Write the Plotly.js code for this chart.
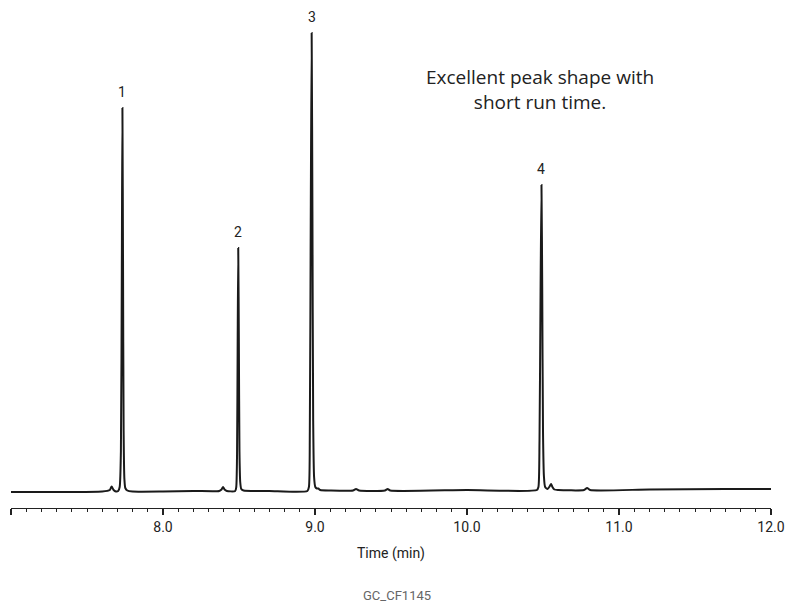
<!DOCTYPE html>
<html>
<head>
<meta charset="utf-8">
<script src="https://cdn.plot.ly/plotly-3.0.1.min.js"></script>
<style>html,body{margin:0;padding:0;background:#fff;}#chart{width:788px;height:604px;}</style>
</head>
<body>
<div id="chart"></div>
<script>
// Chromatogram trace (time in min, detector response in arbitrary units)
const timeMin = [
  7.000, 7.300, 7.600, 7.650, 7.662, 7.675, 7.690, 7.705, 7.715, 7.723, 7.729, 7.733, 7.737, 7.741, 7.746, 7.752, 7.765, 7.800,
  8.000, 8.200, 8.370, 8.385, 8.395, 8.405, 8.420, 8.475, 8.482, 8.487, 8.491, 8.495, 8.499, 8.503, 8.508, 8.515, 8.530,
  8.700, 8.950, 8.960, 8.966, 8.972, 8.978, 8.983, 8.988, 8.994, 9.002, 9.012, 9.022, 9.035, 9.100, 9.250, 9.270, 9.290,
  9.460, 9.478, 9.495, 10.000, 10.460, 10.470, 10.477, 10.484, 10.490, 10.495, 10.500, 10.506, 10.514, 10.530, 10.545,
  10.553, 10.562, 10.575, 10.600, 10.770, 10.790, 10.810, 11.200, 11.700, 12.000
];
const response = [
  -1, -1, -0.5, 1, 4.5, 1, -0.5, 0, 4, 40, 220, 383, 230, 60, 12, 3, 0.5, -0.5,
  -0.5, 0, 0, 1.5, 4, 1.5, 0, 0, 4, 35, 140, 243, 150, 40, 9, 2, 0.5,
  0, 0, 4, 60, 270, 458, 280, 70, 14, 4, 2.5, 2.5, 1, 0.5, 0.5, 2, 0.5,
  0.5, 2, 0.5, 1, 1, 4, 50, 200, 306, 200, 60, 15, 4, 2, 5,
  7, 4, 1.5, 1, 1, 3, 1, 1.5, 2, 2
];

// Peak labels
const peakLabels = ["1", "2", "3", "4"];
const peakTimes = [7.733, 8.495, 8.978, 10.490];
const peakHeights = [383, 243, 458, 306];

// Axis tick labels
const tickValues = [7, 8, 9, 10, 11, 12];
const tickLabels = ["", "8.0", "9.0", "10.0", "11.0", "12.0"];

const axisFont = "Roboto, 'DejaVu Sans', sans-serif";

const trace = {
  x: timeMin,
  y: response,
  type: "scatter",
  mode: "lines",
  line: {color: "#1a1a1a", width: 2, shape: "spline", smoothing: 0.6},
  hoverinfo: "x+y",
  showlegend: false
};

const annotations = peakLabels.map((lab, i) => ({
  x: peakTimes[i], y: peakHeights[i], xref: "x", yref: "y",
  text: lab, showarrow: false, yanchor: "bottom", yshift: 6,
  font: {family: axisFont, size: 14, color: "#222"}
}));

annotations.push({
  xref: "paper", yref: "paper", x: 0.696, y: 0.824, xanchor: "center", yanchor: "middle",
  text: "Excellent peak shape with<br>short run time.", showarrow: false, align: "center",
  font: {family: "'Open Sans', 'Noto Sans', sans-serif", size: 19, color: "#222"}
});

annotations.push({
  xref: "paper", yref: "paper", x: 0.508, y: -0.172, xanchor: "center", yanchor: "middle",
  text: "GC_CF1145", showarrow: false,
  font: {family: axisFont, size: 13, color: "#666"}
});

const layout = {
  width: 788, height: 604,
  margin: {l: 11, r: 17, t: 0, b: 96},
  paper_bgcolor: "#fff", plot_bgcolor: "#fff",
  xaxis: {
    range: [7, 12],
    showline: true, linecolor: "#222", linewidth: 1.3,
    showgrid: false, zeroline: false,
    ticks: "outside", ticklen: 6, tickwidth: 1.2, tickcolor: "#222",
    tickvals: tickValues, ticktext: tickLabels,
    tickfont: {family: axisFont, size: 14, color: "#222"},
    minor: {dtick: 0.1, ticks: "outside", ticklen: 3, tickwidth: 1, tickcolor: "#222", showgrid: false},
    title: {text: "Time (min)", font: {family: axisFont, size: 14, color: "#222"}, standoff: 14}
  },
  yaxis: {
    range: [-17, 491], visible: false, showgrid: false, zeroline: false
  },
  annotations: annotations
};

Plotly.newPlot("chart", [trace], layout, {displayModeBar: false, staticPlot: true});
</script>
</body>
</html>
